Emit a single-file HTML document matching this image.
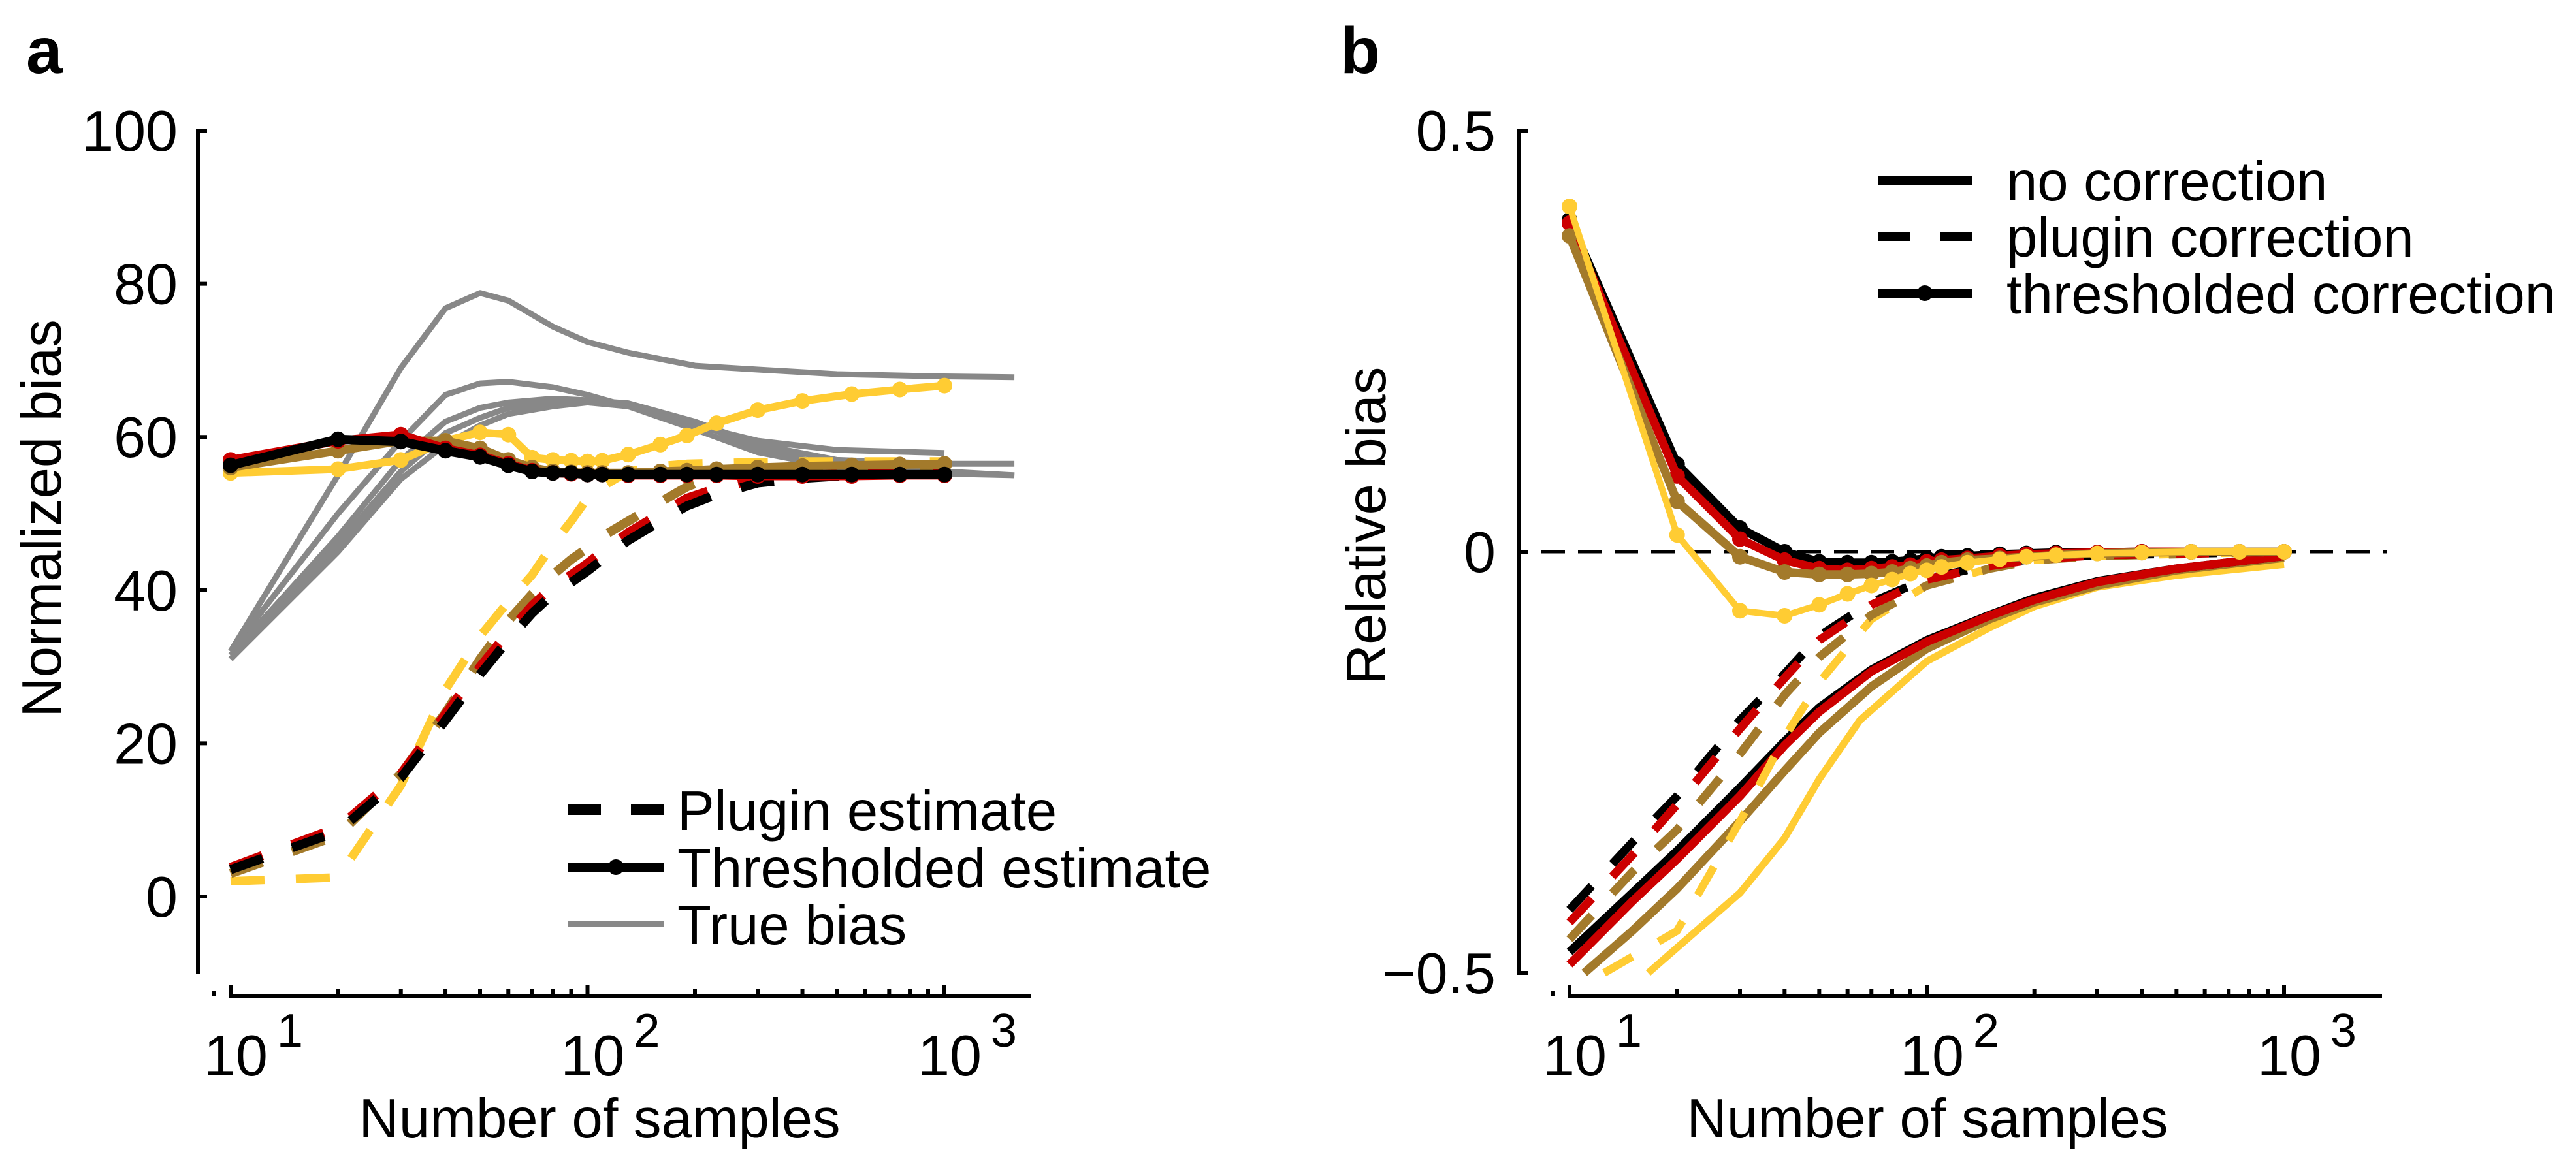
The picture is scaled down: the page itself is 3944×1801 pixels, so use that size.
<!DOCTYPE html>
<html><head><meta charset="utf-8"><style>
html,body{margin:0;padding:0;background:#fff;}
svg{display:block;font-family:"Liberation Sans",Arial,sans-serif;}
</style></head><body>
<svg id="fig" width="3944" height="1801" viewBox="0 0 3944 1801" xmlns="http://www.w3.org/2000/svg">
<g id="pa"></g>
<g id="pb"></g>
</svg>
<script>
// ---------- data ----------
const samples = [10,20,30,40,50,60,70,80,90,100,110,130,160,190,230,300,400,550,750,1000];
const aThreshBlack  = [56.3,59.7,59.4,58.2,57.4,56.3,55.5,55.3,55.3,55.1,55.1,55.1,55.1,55.1,55.1,55.1,55.1,55.1,55.1,55.1];
const aThreshRed    = [57,59.5,60.3,58.5,57.6,56.5,55.6,55.3,55.2,55.1,55.1,55.0,55.0,55.0,55.0,54.9,54.9,54.9,55.0,55.0];
const aThreshBrown  = [56,58.2,59.5,59.5,58.5,57,56,55.5,55.4,55.3,55.3,55.3,55.5,55.6,55.8,56,56.2,56.3,56.4,56.5];
const aThreshYellow = [55.3,55.8,57,59.5,60.6,60.3,57.3,57,56.9,56.8,56.9,57.7,59,60.2,61.8,63.5,64.7,65.6,66.2,66.7];
const aPlugBlack  = [3.5,8.5,15.5,23,29,33.5,37,39.5,41,42.5,44,46.5,49,51,52.5,54,54.6,55,55.1,55.1];
const aPlugRed    = [3.8,9,16,23.8,30,34.5,38,40.5,42,43.5,45,47.5,50,52,53.3,54.5,55,55.2,55.2,55.2];
const aPlugBrown  = [3,8,16,24,31,36,39.5,42,44,45.5,47,49,51.5,53.5,55,55.5,55.8,56,56.2,56.3];
const aPlugYellow = [2,2.5,14.5,27,34,38.5,42,46,49,52,53.5,55.5,56.2,56.5,56.6,56.7,56.8,56.8,56.8,56.8];
const trueX = [10,20,30,40,50,60,80,100,130,200,300,500,1000,1570];
const true1 = [32,55,69,76.8,78.8,77.8,74.4,72.4,71,69.3,68.8,68.2,67.9,67.8];
const true2 = [32,50,59.5,65.5,67,67.2,66.5,65.5,64,61.5,59.5,58.3,57.9,57.8];
const true3 = [31.5,47,57,62,63.8,64.5,65,64.8,64.4,62,59,57,56.5,56.5];
const true4 = [31,46,55.5,60.5,62.5,63.8,64.3,64.5,64,61,58,56,55.5,55];
const true5 = [31,45,54.5,59,61.5,63,64,64.5,64.2,62,58.5,56,55.2,55];
const bThreshBlack  = [0.394,0.104,0.028,0,-0.012,-0.013,-0.013,-0.012,-0.01,-0.008,-0.006,-0.005,-0.003,-0.002,-0.001,-0.001,0,0,0,0];
const bThreshRed    = [0.39,0.09,0.015,-0.01,-0.02,-0.022,-0.02,-0.018,-0.016,-0.012,-0.01,-0.008,-0.005,-0.003,-0.002,-0.001,0,0,0,0];
const bThreshBrown  = [0.375,0.06,-0.006,-0.024,-0.027,-0.027,-0.026,-0.024,-0.02,-0.017,-0.013,-0.01,-0.008,-0.006,-0.004,-0.002,-0.001,0,0,0];
const bThreshYellow = [0.41,0.02,-0.07,-0.076,-0.063,-0.05,-0.04,-0.033,-0.026,-0.022,-0.018,-0.013,-0.009,-0.006,-0.004,-0.002,-0.001,0,0,0];
const ncX = [10,15,20,30,40,50,70,100,150,200,300,500,1000];
const ncBlack = [-0.475,-0.405,-0.355,-0.28,-0.225,-0.185,-0.14,-0.105,-0.075,-0.055,-0.035,-0.02,-0.005];
const ncRed   = [-0.49,-0.415,-0.365,-0.29,-0.23,-0.19,-0.142,-0.107,-0.076,-0.057,-0.036,-0.02,-0.005];
const ncBrownX = [11,15,20,30,40,50,70,100,150,200,300,500,1000];
const ncBrown = [-0.5,-0.45,-0.4,-0.32,-0.26,-0.215,-0.16,-0.115,-0.08,-0.06,-0.04,-0.022,-0.007];
const ncYellowX = [16.6,20,30,40,50,65,100,150,200,300,500,1000];
const ncYellow = [-0.5,-0.47,-0.405,-0.34,-0.27,-0.2,-0.13,-0.09,-0.065,-0.042,-0.028,-0.015];
const pcX = [10,15,20,30,40,50,70,100,150,200,300,1000];
const pcBlack = [-0.425,-0.345,-0.29,-0.2,-0.145,-0.1,-0.06,-0.032,-0.016,-0.008,-0.004,0];
const pcRed   = [-0.44,-0.36,-0.3,-0.21,-0.15,-0.105,-0.063,-0.033,-0.017,-0.009,-0.004,0];
const pcBrown = [-0.46,-0.38,-0.33,-0.24,-0.17,-0.125,-0.075,-0.04,-0.02,-0.01,-0.005,0];
const pcYellowX = [12.5,20,30,40,50,70,100,150,200,300,1000];
const pcYellow = [-0.5,-0.45,-0.32,-0.22,-0.155,-0.08,-0.04,-0.02,-0.01,-0.005,0];
const aYTicks = [0,20,40,60,80,100];
const bYTicks = [-0.5,0,0.5];
const bYTickLabels = ["\u22120.5","0","0.5"];
const xDecades = [1,2,3];

const L = Math.log10;
const xa = v => 353 + 546.5*(L(v)-1);
const ya = v => 1373 - 11.73*v;
const xb = v => 2403 + 547*(L(v)-1);
const yb = v => 845 - 1290*v;
const NS = "http://www.w3.org/2000/svg";
const C = {black:"#000000", red:"#cc0000", brown:"#a37a2b", yellow:"#ffcc33", gray:"#888888"};

function mk(parent, tag, attrs){
  const e = document.createElementNS(NS, tag);
  for (const k in attrs) e.setAttribute(k, attrs[k]);
  parent.appendChild(e);
  return e;
}
function line(parent, xs, ys, fx, fy, color, w, dash){
  const pts = xs.map((x,i)=>fx(x).toFixed(1)+","+fy(ys[i]).toFixed(1)).join(" ");
  const p = mk(parent,"polyline",{points:pts, fill:"none", stroke:color, "stroke-width":w, "stroke-linejoin":"round", "stroke-linecap":"butt"});
  if (dash) p.setAttribute("stroke-dasharray", dash);
  return p;
}
function dots(parent, xs, ys, fx, fy, color, r){
  const g = mk(parent,"g",{});
  
  
  xs.forEach((x,i)=>{ mk(g,"circle",{cx:fx(x).toFixed(1), cy:fy(ys[i]).toFixed(1), r:r, fill:color}); });
  return g;
}
function text(parent, x, y, s, size, anchor, extra){
  const t = mk(parent,"text",Object.assign({x:x, y:y, "font-size":size, "text-anchor":anchor||"start", fill:"#000"}, extra||{}));
  t.textContent = s;
  return t;
}
function xAxis(parent, fx, x0, x1, y){
  const g = mk(parent,"g",{});
  
  
  mk(g,"line",{x1:x0, y1:y, x2:x1, y2:y, stroke:"#000", "stroke-width":6});
  mk(g,"line",{x1:x0, y1:y+3, x2:x0, y2:y-17, stroke:"#000", "stroke-width":6});
  for (let d=0; d<3; d++){
    for (let m=1; m<=9; m++){
      const v = m*Math.pow(10,d+1);
      if (d===2 && m>1) break;
      const px = fx(v);
      mk(g,"line",{x1:px, y1:y, x2:px, y2:y-(m===1?17:10), stroke:"#000", "stroke-width":6});
    }
  }
  const p9 = fx(9);
  mk(g,"rect",{x:p9-3, y:y-7, width:6, height:7, fill:"#000"});
  xDecades.forEach(d=>{
    const px = fx(Math.pow(10,d));
    const t = mk(g,"text",{x:px-41, y:1647, "font-size":88, fill:"#000"});
    
    
    const a = mk(t,"tspan",{}); a.textContent="10";
    const b = mk(t,"tspan",{dx:14, dy:-44, "font-size":72}); b.textContent=String(d);
  });
}

// ---------- Panel A ----------
const pa = document.getElementById("pa");
{
  const lt = text(pa, 40, 112, "a", 100, "start", {"font-weight":"bold"});
  
  
  const ax = mk(pa,"g",{});
  
  
  mk(ax,"line",{x1:303, y1:197, x2:303, y2:1492, stroke:"#000", "stroke-width":6});
  aYTicks.forEach(v=>{
    mk(ax,"line",{x1:300, y1:ya(v), x2:317, y2:ya(v), stroke:"#000", "stroke-width":6});
    const t = text(ax, 272, ya(v)+31, String(v), 88, "end");
    
    
  });
  xAxis(pa, xa, 353, 1578, 1525);
  const xt = text(pa, 918, 1742, "Number of samples", 85, "middle");
  
  
  const yt = text(pa, 0, 0, "Normalized bias", 85, "middle", {transform:"translate(93,794) rotate(-90)"});
  
  

  const gg = mk(pa,"g",{});
  
  
  [true1,true2,true3,true4,true5].forEach((s,i)=>{
    const xs = i===1 ? trueX.slice(0,13) : trueX;
    line(gg, xs, s.slice(0,xs.length), xa, ya, C.gray, 9);
  });
  const gp = mk(pa,"g",{});
  
  
  line(gp, samples, aPlugYellow, xa, ya, C.yellow, 13, "52 48");
  line(gp, samples, aPlugBrown, xa, ya, C.brown, 14, "52 48");
  line(gp, samples, aPlugRed, xa, ya, C.red, 14, "52 48");
  line(gp, samples, aPlugBlack, xa, ya, C.black, 14, "52 48");
  const gt = mk(pa,"g",{});
  
  
  [[aThreshYellow,C.yellow,12],[aThreshBrown,C.brown,13],[aThreshRed,C.red,13],[aThreshBlack,C.black,14]].forEach(([s,c,w])=>{
    line(gt, samples, s, xa, ya, c, w);
    dots(gt, samples, s, xa, ya, c, 12);
  });

  const lg = mk(pa,"g",{});
  
  
  const rows = [1240,1328,1415];
  mk(lg,"line",{x1:870,y1:rows[0],x2:1016,y2:rows[0],stroke:"#000","stroke-width":16,"stroke-dasharray":"50 46"});
  mk(lg,"line",{x1:870,y1:rows[1],x2:1016,y2:rows[1],stroke:"#000","stroke-width":14});
  mk(lg,"circle",{cx:943,cy:rows[1],r:12,fill:"#000"});
  mk(lg,"line",{x1:870,y1:rows[2],x2:1016,y2:rows[2],stroke:C.gray,"stroke-width":9});
  ["Plugin estimate","Thresholded estimate","True bias"].forEach((s,i)=>{
    const t = text(lg, 1037, rows[i]+31, s, 85, "start");
    
    
  });
}

// ---------- Panel B ----------
const pb = document.getElementById("pb");
{
  const lt = text(pb, 2052, 112, "b", 100, "start", {"font-weight":"bold"});
  
  
  const ax = mk(pb,"g",{});
  
  
  mk(ax,"line",{x1:2325, y1:197, x2:2325, y2:1493, stroke:"#000", "stroke-width":6});
  bYTicks.forEach((v,i)=>{
    mk(ax,"line",{x1:2322, y1:yb(v), x2:2340, y2:yb(v), stroke:"#000", "stroke-width":6});
    const t = text(ax, 2290, yb(v)+31, bYTickLabels[i], 88, "end");
    
    
  });
  xAxis(pb, xb, 2403, 3647, 1525);
  const zl = mk(pb,"line",{x1:2360, y1:yb(0), x2:3655, y2:yb(0), stroke:"#000", "stroke-width":5, "stroke-dasharray":"36 20"});
  
  
  const xt = text(pb, 2951, 1742, "Number of samples", 85, "middle");
  
  
  const yt = text(pb, 0, 0, "Relative bias", 85, "middle", {transform:"translate(2121,805) rotate(-90)"});
  
  

  const gn = mk(pb,"g",{});
  
  
  line(gn, ncYellowX, ncYellow, xb, yb, C.yellow, 11);
  line(gn, ncBrownX, ncBrown, xb, yb, C.brown, 13);
  line(gn, ncX, ncBlack, xb, yb, C.black, 13);
  line(gn, ncX, ncRed, xb, yb, C.red, 13);
  const gp = mk(pb,"g",{});
  
  
  line(gp, pcYellowX, pcYellow, xb, yb, C.yellow, 12, "50 46");
  line(gp, pcX, pcBrown, xb, yb, C.brown, 13, "50 46");
  line(gp, pcX, pcBlack, xb, yb, C.black, 13, "50 46");
  line(gp, pcX, pcRed, xb, yb, C.red, 13, "50 46");
  const gt = mk(pb,"g",{});
  
  
  [[bThreshBlack,C.black,13],[bThreshRed,C.red,13],[bThreshBrown,C.brown,13],[bThreshYellow,C.yellow,10]].forEach(([s,c,w])=>{
    line(gt, samples, s, xb, yb, c, w);
    dots(gt, samples, s, xb, yb, c, 12);
  });

  const lg = mk(pb,"g",{});
  
  
  const rows = [276,362,449];
  mk(lg,"line",{x1:2875,y1:rows[0],x2:3020,y2:rows[0],stroke:"#000","stroke-width":14});
  mk(lg,"line",{x1:2875,y1:rows[1],x2:3020,y2:rows[1],stroke:"#000","stroke-width":14,"stroke-dasharray":"50 46"});
  mk(lg,"line",{x1:2875,y1:rows[2],x2:3020,y2:rows[2],stroke:"#000","stroke-width":14});
  mk(lg,"circle",{cx:2947,cy:rows[2],r:12,fill:"#000"});
  ["no correction","plugin correction","thresholded correction"].forEach((s,i)=>{
    const t = text(lg, 3072, rows[i]+31, s, 85, "start");
    
    
  });
}
</script>
</body></html>
